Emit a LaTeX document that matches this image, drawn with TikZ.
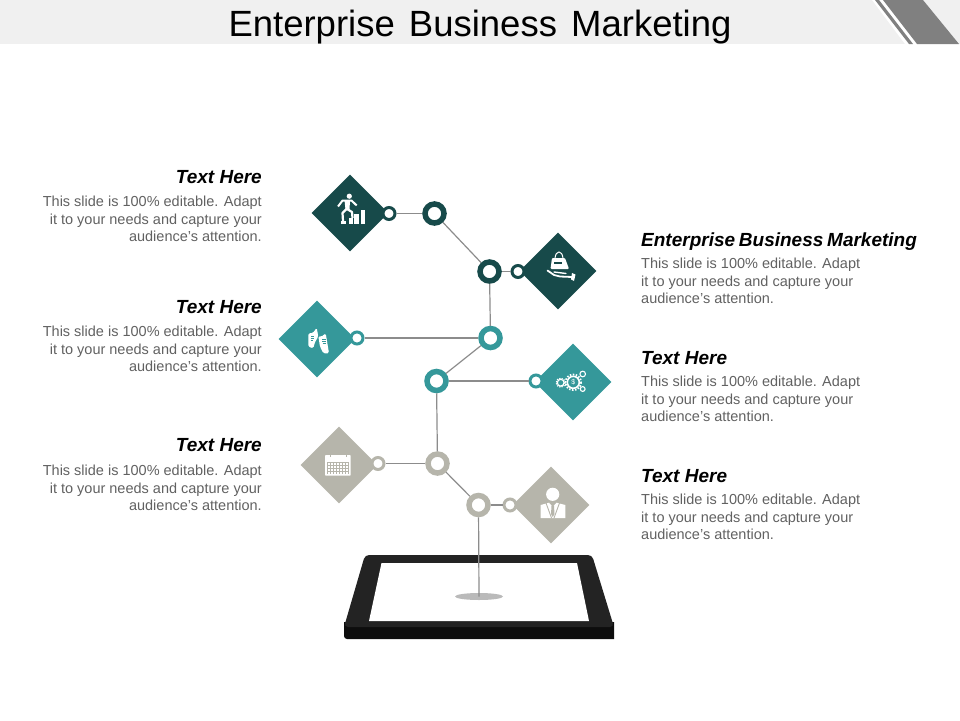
\documentclass[tikz,border=0pt]{standalone}
\usepackage{fontspec}
\setmainfont{Liberation Sans}
\usetikzlibrary{positioning,shapes.geometric}
\definecolor{deepteal}{HTML}{174A4A}
\definecolor{midteal}{HTML}{35989A}
\definecolor{taupe}{HTML}{B6B5AB}
\definecolor{wire}{HTML}{8C8C8C}
\definecolor{bezel}{HTML}{232323}
\tikzset{
  tile/.style={diamond, minimum width=77pt, minimum height=77pt, inner sep=0pt, fill=#1},
  bigring/.style={circle, draw=#1, line width=5.5pt, fill=white, minimum size=19pt, inner sep=0pt},
  smallring/.style={circle, draw=#1, line width=3pt, fill=white, minimum size=12pt, inner sep=0pt},
  wireline/.style={draw=wire, line width=1.2pt},
  heading/.style={font=\fontsize{19}{21}\selectfont\bfseries\itshape, inner sep=0pt},
  blurb/.style={font=\fontsize{14.5}{17.6}\selectfont, text=black!62, inner sep=0pt},
}
\begin{document}
\begin{tikzpicture}[x=1pt, y=-1pt]
    \useasboundingbox (0,0) rectangle (960,720);

    % Title band
    \fill[black!6] (0,0) rectangle (960,44);
    \fill[white] (872,0) -- (923,0) -- (959,44) -- (905,44) -- cycle;
    \fill[black!50] (883,0) -- (923,0) -- (959,44) -- (917,44) -- cycle;
    \fill[black!50] (875,0) -- (879,0) -- (913,44) -- (909,44) -- cycle;
    \node[font=\fontsize{36.5}{40}\selectfont, inner sep=0pt, anchor=base] (title) at (480,36) {Enterprise\hspace{4pt} Business\hspace{4pt} Marketing};

    % Tablet
    \fill[black!95, rounded corners=3pt] (344,622) -- (344,639) [sharp corners] -- (614,639) -- (614,622) -- cycle;
    \fill[bezel, rounded corners=4pt] (365,555) -- (592,555) -- (614,627) -- (344,627) -- cycle;
    \fill[white] (381.5,563) -- (577,563) -- (589,621) -- (369,621) -- cycle;
    \node[ellipse, fill=black!27, minimum width=48pt, minimum height=7pt, inner sep=0pt] (spot) at (479,596.5) {};

    % Tiles
    \node[tile=deepteal] (tile1) at (350,213) {};
    \node[tile=deepteal] (tile2) at (558,271) {};
    \node[tile=midteal] (tile3) at (317,339) {};
    \node[tile=midteal] (tile4) at (573,382) {};
    \node[tile=taupe] (tile5) at (339,465) {};
    \node[tile=taupe] (tile6) at (551,505) {};

    % Rings on the stem
    \node[bigring=deepteal] (ring1) at (434.5,213.5) {};
    \node[bigring=deepteal] (ring2) at (489.5,271.5) {};
    \node[bigring=midteal] (ring3) at (490.5,338) {};
    \node[bigring=midteal] (ring4) at (436.5,381) {};
    \node[bigring=taupe] (ring5) at (437.5,463.5) {};
    \node[bigring=taupe] (ring6) at (478.5,505) {};

    % Rings on the tiles
    \node[smallring=deepteal] (knob1) at (389,213.5) {};
    \node[smallring=deepteal] (knob2) at (518,271.5) {};
    \node[smallring=midteal] (knob3) at (357,338) {};
    \node[smallring=midteal] (knob4) at (536,381) {};
    \node[smallring=taupe] (knob5) at (378,463.5) {};
    \node[smallring=taupe] (knob6) at (510,505) {};

    % Connectors
    \draw[wireline] (knob1) -- (ring1);
    \draw[wireline] (ring1) -- (ring2);
    \draw[wireline] (ring2) -- (knob2);
    \draw[wireline] (ring2) -- (ring3);
    \draw[wireline] (knob3) -- (ring3);
    \draw[wireline] (ring3) -- (ring4);
    \draw[wireline] (ring4) -- (knob4);
    \draw[wireline] (ring4) -- (ring5);
    \draw[wireline] (knob5) -- (ring5);
    \draw[wireline] (ring5) -- (ring6);
    \draw[wireline] (ring6) -- (knob6);
    \draw[wireline] (ring6) -- (spot.center);

    % Climber icon
    \fill[white] (349.3,196.2) circle (2.6);
    \draw[white, line width=2pt, line join=round] (338,206.5) -- (342.5,200.5) -- (351.5,200.5) -- (356.7,205.5);
    \fill[white] (344.5,200) -- (350,200) -- (349.5,210) -- (345.5,210) -- cycle;
    \draw[white, line width=2.2pt, line join=round] (347,209) -- (352,212) -- (352.5,218);
    \draw[white, line width=2.2pt, line join=round] (346.5,209) -- (342.5,213) -- (343,221);
    \fill[white] (340.7,221) rectangle (345.7,224);
    \fill[white] (349.3,218.3) rectangle (352.7,224);
    \fill[white] (354.3,214.3) rectangle (358.7,224);
    \fill[white] (361,210) rectangle (365,224);

    % Bag and hand icon
    \draw[white, line width=1pt] (555,258) .. controls (556,250) and (562,250) .. (563,258);
    \fill[white, rounded corners=1pt] (552,258) -- (565,258) -- (569,269) -- (550.5,269) -- cycle;
    \fill[deepteal] (554,262) rectangle (562,264);
    \draw[white, line width=1.8pt, line cap=round, line join=round] (547.5,270.5) -- (554,275) -- (560,276.5) -- (572,277);
    \draw[white, line width=1.4pt, line cap=round] (554,272) -- (566,273.5);
    \fill[white] (572,273) -- (575.5,274.5) -- (574,281) -- (571,279.5) -- cycle;

    % Shoes icon
    \fill[white, rounded corners=1.5pt] (308.3,333.3) -- (313,333) -- (316.7,327.7) -- (318.3,336.7) -- (315,342) -- (313.3,348.3) -- (308.3,346.7) -- cycle;
    \fill[white, rounded corners=1.5pt] (318.3,336) -- (321,337) -- (325.7,333.3) -- (329,353.3) -- (323.3,353.3) -- (320,346.7) -- cycle;
    \draw[midteal, line width=.5pt] (311,336) -- (314,336) (310.5,338) -- (313.5,338) (310.5,340) -- (313,340);
    \draw[midteal, line width=.5pt] (322,339) -- (325.5,339) (322,341) -- (326,341) (322.5,343) -- (326,343);

    % Gears icon
    \draw[white, line width=1.8pt, dash pattern=on 1.5pt off 1.5pt] (573.3,382.3) circle (7.8);
    \draw[white, line width=1.6pt] (573.3,382.3) circle (6);
    \node[text=white, font=\fontsize{7}{7}\selectfont, inner sep=0pt] (dollar) at (573.3,382.3) {\$};
    \draw[white, line width=1.2pt, dash pattern=on 1.2pt off 1.2pt] (560.7,382.7) circle (4.5);
    \draw[white, line width=1.2pt] (560.7,382.7) circle (3.4);
    \draw[white, line width=1.1pt] (582.7,374) circle (2.8);
    \draw[white, line width=1.1pt] (582.7,389) circle (2.4);

    % Calendar icon
    \fill[white, rounded corners=.8pt] (325,455) rectangle (350.7,475.7);
    \draw[taupe, line width=.4pt, xstep=3.05pt, ystep=3.05pt, shift={(327.3,461.7)}] (0,0) grid (21.4,12.2);
    \draw[taupe, line width=.8pt] (330,453.5) -- (330,457) (346,453.5) -- (346,457);

    % Person icon
    \fill[white] (552.7,494.3) circle (6.6);
    \fill[white] (540.7,505) -- (549,502.7) -- (552.7,507) -- (556.5,502.7) -- (565.3,505) -- (565.3,518) -- (540.7,518) -- cycle;
    \draw[taupe, line width=.9pt] (546,503) -- (551.5,518) (559.5,503) -- (554,518);
    \fill[taupe] (551.5,506) -- (554,506) -- (554.5,514) -- (552.7,517) -- (551,514) -- cycle;

    % Left texts
    \node[heading, anchor=base east] (headL1) at (262,183.5) {Text Here};
    \node[blurb, align=right, anchor=north east] (textL1) at (262,196) {This slide is 100\% editable. Adapt\\it to your needs and capture your\\audience's attention.};
    \node[heading, anchor=base east] (headL2) at (262,313.5) {Text Here};
    \node[blurb, align=right, anchor=north east] (textL2) at (262,326) {This slide is 100\% editable. Adapt\\it to your needs and capture your\\audience's attention.};
    \node[heading, anchor=base east] (headL3) at (262,451.5) {Text Here};
    \node[blurb, align=right, anchor=north east] (textL3) at (262,465) {This slide is 100\% editable. Adapt\\it to your needs and capture your\\audience's attention.};

    % Right texts
    \node[heading, anchor=base west] (headR1) at (641,246.5) {Enterprise\hspace{-1.5pt} Business\hspace{-1.5pt} Marketing};
    \node[blurb, align=left, anchor=north west] (textR1) at (641,258) {This slide is 100\% editable. Adapt\\it to your needs and capture your\\audience's attention.};
    \node[heading, anchor=base west] (headR2) at (641,364.5) {Text Here};
    \node[blurb, align=left, anchor=north west] (textR2) at (641,376) {This slide is 100\% editable. Adapt\\it to your needs and capture your\\audience's attention.};
    \node[heading, anchor=base west] (headR3) at (641,482.5) {Text Here};
    \node[blurb, align=left, anchor=north west] (textR3) at (641,494) {This slide is 100\% editable. Adapt\\it to your needs and capture your\\audience's attention.};
\end{tikzpicture}
\end{document}
